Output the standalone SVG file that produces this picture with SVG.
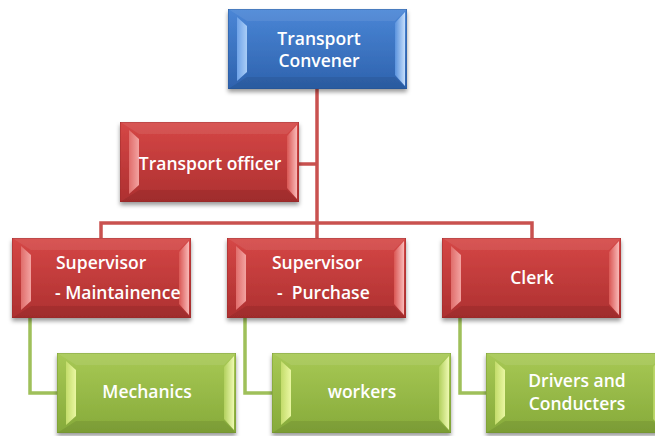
<svg xmlns="http://www.w3.org/2000/svg" xmlns:xlink="http://www.w3.org/1999/xlink" width="655" height="436" viewBox="0 0 655 436">
<style>
.t{font-family:"Open Sans","Liberation Sans",sans-serif;font-size:17.5px;font-weight:600;fill:#ffffff}
.c{text-anchor:middle}
.red{fill:none;stroke:#c9514f;stroke-width:3.5}
.grn{fill:none;stroke:#9fc05a;stroke-width:3.5}
</style>
<defs>
<filter id="sh" x="-10%" y="-10%" width="120%" height="130%">
<feDropShadow dx="0" dy="3" stdDeviation="2" flood-color="#000" flood-opacity="0.4"/>
</filter>
<linearGradient id="bM" x1="0" y1="0" x2="0" y2="1"><stop offset="0" stop-color="#4a86d6"/><stop offset="1" stop-color="#2e62ad"/></linearGradient>
<linearGradient id="rM" x1="0" y1="0" x2="0" y2="1"><stop offset="0" stop-color="#d54746"/><stop offset="1" stop-color="#ad3030"/></linearGradient>
<linearGradient id="gM" x1="0" y1="0" x2="0" y2="1"><stop offset="0" stop-color="#a8c955"/><stop offset="1" stop-color="#86aa3a"/></linearGradient>
<linearGradient id="bL" x1="0" y1="0" x2="1" y2="0"><stop offset="0" stop-color="#6fa3e8"/><stop offset="1" stop-color="#a9cdf7"/></linearGradient>
<linearGradient id="bR" x1="0" y1="0" x2="1" y2="0"><stop offset="0" stop-color="#5a93de"/><stop offset="1" stop-color="#c4ddfb"/></linearGradient>
<linearGradient id="rL" x1="0" y1="0" x2="1" y2="0"><stop offset="0" stop-color="#e06d6b"/><stop offset="1" stop-color="#f3a3a1"/></linearGradient>
<linearGradient id="rR" x1="0" y1="0" x2="1" y2="0"><stop offset="0" stop-color="#d95654"/><stop offset="1" stop-color="#f9b9b7"/></linearGradient>
<linearGradient id="gL" x1="0" y1="0" x2="1" y2="0"><stop offset="0" stop-color="#c3dc6a"/><stop offset="1" stop-color="#eaf7a2"/></linearGradient>
<linearGradient id="gR" x1="0" y1="0" x2="1" y2="0"><stop offset="0" stop-color="#b2d05e"/><stop offset="1" stop-color="#eef9b0"/></linearGradient>
<symbol id="boxB" viewBox="0 0 179 80" width="179" height="80">
<rect x="0" y="0" width="179" height="80" fill="url(#bM)" stroke="#2b5a9e" stroke-width="1"/>
<polygon points="0,0 179,0 167,12 19,12" fill="#ffffff" opacity="0.08"/>
<polygon points="0,80 179,80 167,68 19,68" fill="#000000" opacity="0.08"/>
<polygon points="9,8 19,17 19,63 9,72" fill="url(#bL)"/>
<polygon points="177,3 177,77 167,66 167,14" fill="url(#bR)"/>
</symbol>
<symbol id="boxR" viewBox="0 0 179 80" width="179" height="80">
<rect x="0" y="0" width="179" height="80" fill="url(#rM)" stroke="#a02c2c" stroke-width="1"/>
<polygon points="0,0 179,0 167,12 19,12" fill="#ffffff" opacity="0.08"/>
<polygon points="0,80 179,80 167,68 19,68" fill="#000000" opacity="0.08"/>
<polygon points="9,8 19,17 19,63 9,72" fill="url(#rL)"/>
<polygon points="177,3 177,77 167,66 167,14" fill="url(#rR)"/>
</symbol>
<symbol id="boxG" viewBox="0 0 179 80" width="179" height="80">
<rect x="0" y="0" width="179" height="80" fill="url(#gM)" stroke="#7b9c34" stroke-width="1"/>
<polygon points="0,0 179,0 167,12 19,12" fill="#ffffff" opacity="0.08"/>
<polygon points="0,80 179,80 167,68 19,68" fill="#000000" opacity="0.08"/>
<polygon points="9,8 19,17 19,63 9,72" fill="url(#gL)"/>
<polygon points="177,3 177,77 167,66 167,14" fill="url(#gR)"/>
</symbol>
</defs>
<rect width="655" height="436" fill="#ffffff"/>
<g id="connectors">
<path class="red" d="M317,89 V223"/>
<path class="red" d="M299,164 H317"/>
<path class="red" d="M101,238 V223 H532 V238"/>
<path class="red" d="M317,223 V238"/>
<path class="grn" d="M30,318 V393 H57"/>
<path class="grn" d="M245,318 V393 H272"/>
<path class="grn" d="M460,318 V393 H486"/>
</g>
<g id="transport-convener">
<use xlink:href="#boxB" x="228" y="9" filter="url(#sh)"/>
<text class="t c" x="319" y="45">Transport</text>
<text class="t c" x="319" y="67">Convener</text>
</g>
<g id="transport-officer">
<use xlink:href="#boxR" x="120" y="122" filter="url(#sh)"/>
<text class="t c" x="210" y="170">Transport officer</text>
</g>
<g id="supervisor-maintainence">
<use xlink:href="#boxR" x="12" y="238" filter="url(#sh)"/>
<text class="t" x="56" y="269">Supervisor</text>
<text class="t" x="55" y="299" xml:space="preserve">- Maintainence</text>
</g>
<g id="supervisor-purchase">
<use xlink:href="#boxR" x="227" y="238" filter="url(#sh)"/>
<text class="t" x="272" y="269">Supervisor</text>
<text class="t" x="277" y="299" xml:space="preserve">-  Purchase</text>
</g>
<g id="clerk">
<use xlink:href="#boxR" x="442" y="238" filter="url(#sh)"/>
<text class="t c" x="532" y="284">Clerk</text>
</g>
<g id="mechanics">
<use xlink:href="#boxG" x="57" y="353" filter="url(#sh)"/>
<text class="t c" x="147" y="398">Mechanics</text>
</g>
<g id="workers">
<use xlink:href="#boxG" x="272" y="353" filter="url(#sh)"/>
<text class="t c" x="362" y="398">workers</text>
</g>
<g id="drivers-conducters">
<use xlink:href="#boxG" x="486" y="353" filter="url(#sh)"/>
<text class="t c" x="577" y="387">Drivers and</text>
<text class="t c" x="577" y="410">Conducters</text>
</g>
</svg>
